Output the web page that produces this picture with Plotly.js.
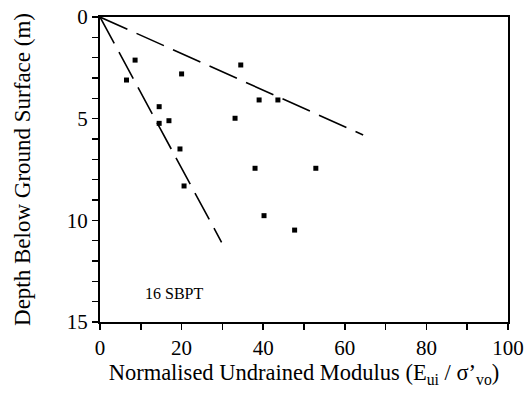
<!DOCTYPE html>
<html>
<head>
<meta charset="utf-8">
<script src="https://cdn.plot.ly/plotly-3.0.1.min.js"></script>
<style>html,body{margin:0;padding:0;background:#fff;}#chart{width:529px;height:394px;}</style>
</head>
<body>
<div id="chart"></div>
<script>
// Measured points (normalised undrained modulus, depth m)
const modulus = [8.6, 6.5, 20.0, 34.5, 39.0, 43.6, 14.5, 14.5, 16.9, 33.1, 19.6, 38.0, 20.6, 40.2, 47.7, 52.9];
const depth   = [2.12, 3.10, 2.80, 2.36, 4.08, 4.08, 4.41, 5.23, 5.10, 4.98, 6.49, 7.44, 8.31, 9.77, 10.48, 7.44];
// Bounding dashed lines
const upperLineX = [0, 64.5];
const upperLineY = [0, 5.8];
const lowerLineX = [0, 29.8];
const lowerLineY = [0, 11.08];
const xTickVals = [0, 20, 40, 60, 80, 100];
const yTickVals = [0, 5, 10, 15];
const noteText = '16 SBPT';

const font = '"Liberation Serif"';
const traces = [
  {x: upperLineX, y: upperLineY, mode: 'lines', line: {color: '#000', width: 1.6, dash: '30px,10px'}, hoverinfo: 'skip'},
  {x: lowerLineX, y: lowerLineY, mode: 'lines', line: {color: '#000', width: 1.6, dash: '30px,10px'}, hoverinfo: 'skip'},
  {x: modulus, y: depth, mode: 'markers', marker: {symbol: 'square', size: 5, color: '#000'}}
];
const axisCommon = {
  showline: true, linecolor: '#000', linewidth: 2, mirror: true,
  showgrid: false, zeroline: false, ticks: 'outside', ticklen: 6, tickwidth: 1.5, tickcolor: '#000',
  tickfont: {family: font, size: 21, color: '#000'}
};
const layout = {
  width: 529, height: 394,
  margin: {l: 100, r: 21, t: 17, b: 72},
  paper_bgcolor: '#fff', plot_bgcolor: '#fff',
  showlegend: false,
  font: {family: font, color: '#000'},
  xaxis: Object.assign({}, axisCommon, {
    range: [0, 100], tickvals: xTickVals,
    minor: {dtick: 10, ticks: 'outside', ticklen: 6, tickwidth: 1.5, tickcolor: '#000', showgrid: false},
    title: {text: 'Normalised Undrained Modulus (E<sub>ui</sub> / σ’<sub>vo</sub>)', font: {family: font, size: 22.5, color: '#000'}, standoff: 2}
  }),
  yaxis: Object.assign({}, axisCommon, {
    range: [15, 0], tickvals: yTickVals,
    minor: {dtick: 1, ticks: 'outside', ticklen: 6, tickwidth: 1.5, tickcolor: '#000', showgrid: false},
    title: {text: 'Depth Below Ground Surface (m)', font: {family: font, size: 23, color: '#000'}, standoff: 30}
  }),
  annotations: [{x: 10.5, y: 13.6, xref: 'x', yref: 'y', text: noteText, showarrow: false, xanchor: 'left', yanchor: 'middle', font: {family: font, size: 16, color: '#000'}}]
};
Plotly.newPlot('chart', traces, layout, {displayModeBar: false, staticPlot: true});
</script>
</body>
</html>
